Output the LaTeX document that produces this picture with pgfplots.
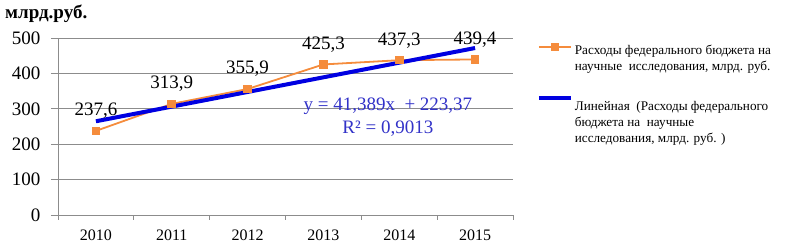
\documentclass[border=0pt]{standalone}
\usepackage{pgfplots}
\pgfplotsset{compat=1.18}
\usepackage{fontspec}
\setmainfont{Liberation Serif}
\definecolor{orng}{RGB}{245,140,60}
\definecolor{trblue}{RGB}{0,0,225}
\definecolor{eqblue}{RGB}{50,50,200}
\definecolor{gridgray}{RGB}{140,140,140}
\newcommand\fA{\fontsize{19}{23}\selectfont}
\newcommand\fX{\fontsize{16}{19}\selectfont}
\newcommand\fL{\fontsize{13.2}{16}\selectfont}
\newcommand\fT{\fontsize{19}{22}\selectfont\bfseries}
\pgfplotsset{
  imgA/.style={legend image code/.code={\draw[##1, mark repeat=2, mark phase=2] plot coordinates {(0pt,11pt) (16pt,11pt) (32pt,11pt)};}},
  imgB/.style={legend image code/.code={\draw[##1] (0pt,25pt) -- (32pt,25pt);}},
}
\begin{document}
\begin{tikzpicture}
\useasboundingbox (0,0) rectangle (786pt,245pt);
\node[anchor=west, font=\fT, inner sep=0pt] at (5pt,231pt) {млрд.руб.};
\begin{axis}[
  at={(58pt,30pt)}, anchor=south west,
  scale only axis, width=455pt, height=177pt,
  xmin=0.5, xmax=6.5, ymin=0, ymax=500,
  xtick={1,2,3,4,5,6},
  xticklabels={2010,2011,2012,2013,2014,2015},
  minor xtick={0.5,1.5,2.5,3.5,4.5,5.5,6.5},
  ytick={0,100,200,300,400,500},
  axis x line*=bottom, axis y line*=left,
  axis line style={draw=gridgray, line width=0.8pt, -},
  ymajorgrids,
  major grid style={draw=gridgray, line width=0.8pt},
  tick align=outside,
  major tick length=7pt, minor tick length=5pt,
  tick style={draw=gridgray, line width=0.8pt},
  major x tick style={draw=none},
  /pgf/number format/assume math mode=true,
  yticklabel style={font=\fA, xshift=-7pt},
  xticklabel style={font=\fX, yshift=-4pt},
  legend style={at={(1.052,0.975)}, anchor=north west, draw=none, fill=none,
    font=\fL, cells={anchor=west, align=left}, row sep=22pt, inner sep=0pt},
]
\addplot[color=orng, line width=1.8pt, mark=square*, mark size=3.8pt,
  mark options={fill=orng, draw=orng, line width=0pt},
  nodes near coords={\pgfmathprintnumber[fixed,fixed zerofill,precision=1,use comma]{\pgfplotspointmeta}},
  every node near coord/.append style={font=\fA, text=black, anchor=center, yshift=20pt},
  imgA]
  coordinates {(1,237.6) (2,313.9) (3,355.9) (4,425.3) (5,437.3) (6,439.4)};
\addlegendentry{Расходы федерального бюджета на\\научные \ исследования, млрд. руб.}
\addplot[color=trblue, line width=4pt, imgB]
  coordinates {(1,264.76) (6,471.70)};
\addlegendentry{Линейная \ (Расходы федерального\\бюджета на \ научные\\исследования, млрд. руб. )}
\node[text=eqblue, font=\fA, align=center] at (axis cs:4.85,276) {y = 41,389x \ + 223,37\\R² = 0,9013};
\end{axis}
\end{tikzpicture}
\end{document}
